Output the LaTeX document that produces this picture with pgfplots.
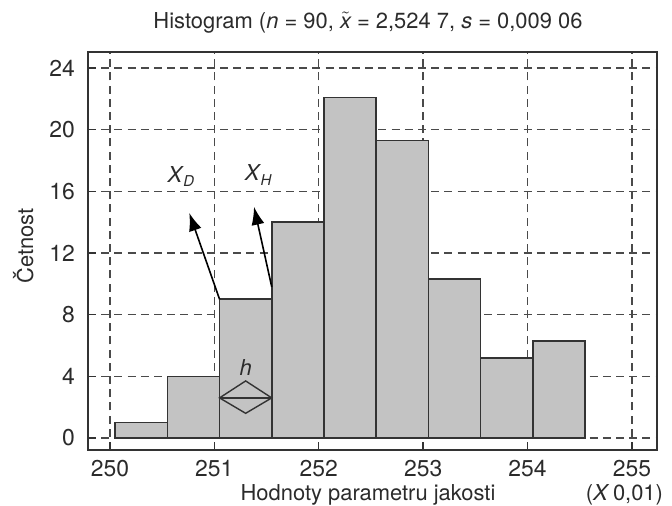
\documentclass[border=0pt]{standalone}
\usepackage{fontspec}
\setmainfont{TeX Gyre Heros}
\usepackage{pgfplots}
\usepackage{pgfplotstable}
\pgfplotsset{compat=1.18}
\usetikzlibrary{arrows.meta}

\definecolor{txt}{HTML}{2B2B2B}
\definecolor{barfill}{HTML}{C3C3C3}
\definecolor{edge}{HTML}{333333}
\definecolor{gridc}{HTML}{4A4A4A}

% class counts (bin width h = 0.5, centres of the bins)
\pgfplotstableread{
x       f
250.30  1
250.80  4
251.30  9
251.80  14
252.30  22.1
252.80  19.3
253.30  10.3
253.80  5.2
254.30  6.3
}\histdata

\begin{document}
\begin{tikzpicture}[font=\fontsize{11}{13}\selectfont, text=txt]
\path[use as bounding box] (-44bp,-28bp) rectangle (292bp,225bp);
\begin{axis}[
  scale only axis,
  width=284.5bp, height=199bp,
  xmin=249.79, xmax=255.24,
  ymin=-0.78, ymax=25.04,
  xtick={250,251,252,253,254,255},
  ytick={0,4,8,12,16,20,24},
  xtick pos=bottom, ytick pos=left,
  tick align=inside,
  major tick length=4bp,
  tick style={line width=0.7bp, color=edge},
  grid=major,
  grid style={line width=0.7bp, color=gridc, dash pattern=on 4bp off 2.6bp},
  axis line style={line width=0.9bp, color=edge},
  /pgf/number format/assume math mode=true,
  /pgf/number format/set thousands separator={},
  ticklabel style={font=\fontsize{11.5}{13}\selectfont, text=txt},
  xticklabel style={yshift=-1.5bp},
  yticklabel style={xshift=-3bp},
]
\addplot[ybar, bar width=0.5, bar shift=0pt, fill=barfill, draw=edge,
  line width=0.8bp] table[x=x, y=f] {\histdata};

% lower and upper class limits
\draw[line width=0.8bp, -{Latex[length=9bp, width=6.5bp]}]
  (axis cs:251.05,9) -- (axis cs:250.76,14.6);
\draw[line width=0.8bp, -{Latex[length=9bp, width=6.5bp]}]
  (axis cs:251.55,9.8) -- (axis cs:251.38,15.0);
\node at (axis cs:250.68,16.95) {\itshape X\kern0.5pt\raisebox{-0.4ex}{\fontsize{7.5}{8}\selectfont D}};
\node at (axis cs:251.42,17.05) {\itshape X\kern0.5pt\raisebox{-0.4ex}{\fontsize{7.5}{8}\selectfont H}};

% class width h
\draw[line width=0.7bp, color=edge]
  (axis cs:251.05,2.6) -- (axis cs:251.30,3.7) -- (axis cs:251.55,2.6)
  -- (axis cs:251.30,1.6) -- cycle;
\draw[line width=0.7bp, color=edge] (axis cs:251.05,2.6) -- (axis cs:251.55,2.6);
\node at (axis cs:251.30,4.6) {\itshape h};
\end{axis}

\node[anchor=base] at (140bp,210.5bp)
  {Histogram (\textit{n} = 90, $\tilde{\mbox{\itshape x}}$ = 2,524 7, \textit{s} = 0,009 06};
\node[anchor=base, rotate=90] at (-27.5bp,102bp) {Četnost};
\node[anchor=base] at (140bp,-25bp) {Hodnoty parametru jakosti};
\node[anchor=base east] at (291bp,-25bp) {(\textit{X}\,0,01)};
\end{tikzpicture}
\end{document}
